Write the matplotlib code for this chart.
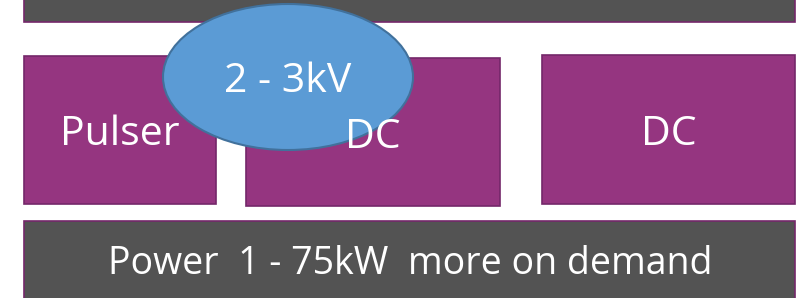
import matplotlib.pyplot as plt
from matplotlib.patches import Rectangle, Ellipse

# labels of the blocks
module_labels = ['Pulser', 'DC', 'DC']
power_label = 'Power  1 - 75kW  more on demand'
voltage_label = '2 - 3kV'

purple = '#953580'
purple_edge = '#74276a'
grey = '#535353'
blue = '#5b9bd5'
blue_edge = '#41719c'

fig = plt.figure(figsize=(7.96, 2.98), dpi=100)
ax = fig.add_axes([0, 0, 1, 1])
ax.set_xlim(0, 796)
ax.set_ylim(298, 0)
ax.axis('off')

# top and bottom bars
ax.add_patch(Rectangle((24, -5), 771, 27, facecolor=grey, edgecolor=purple_edge, lw=1.2))
ax.add_patch(Rectangle((24, 221), 771, 82, facecolor=grey, edgecolor=purple_edge, lw=1.2))
ax.text(410, 274, power_label, color='white', fontsize=27, family='Open Sans',
        ha='center', va='baseline')

# module boxes (x, y, w, h, text baseline)
boxes = [(24, 56, 192, 148, 145), (246, 58, 254, 148, 148), (542, 55, 253, 149, 145)]
for (x, y, w, h, base), lab in zip(boxes, module_labels):
    ax.add_patch(Rectangle((x, y), w, h, facecolor=purple, edgecolor=purple_edge, lw=1.2))
    ax.text(x + w / 2, base, lab, color='white', fontsize=29.5,
            family='Open Sans', ha='center', va='baseline')

# voltage bubble
ax.add_patch(Ellipse((288, 77), 250, 146, facecolor=blue, edgecolor=blue_edge, lw=1.5))
ax.text(288, 92, voltage_label, color='white', fontsize=29.5, family='Open Sans',
        ha='center', va='baseline')

fig.savefig('out.png', dpi=100)
